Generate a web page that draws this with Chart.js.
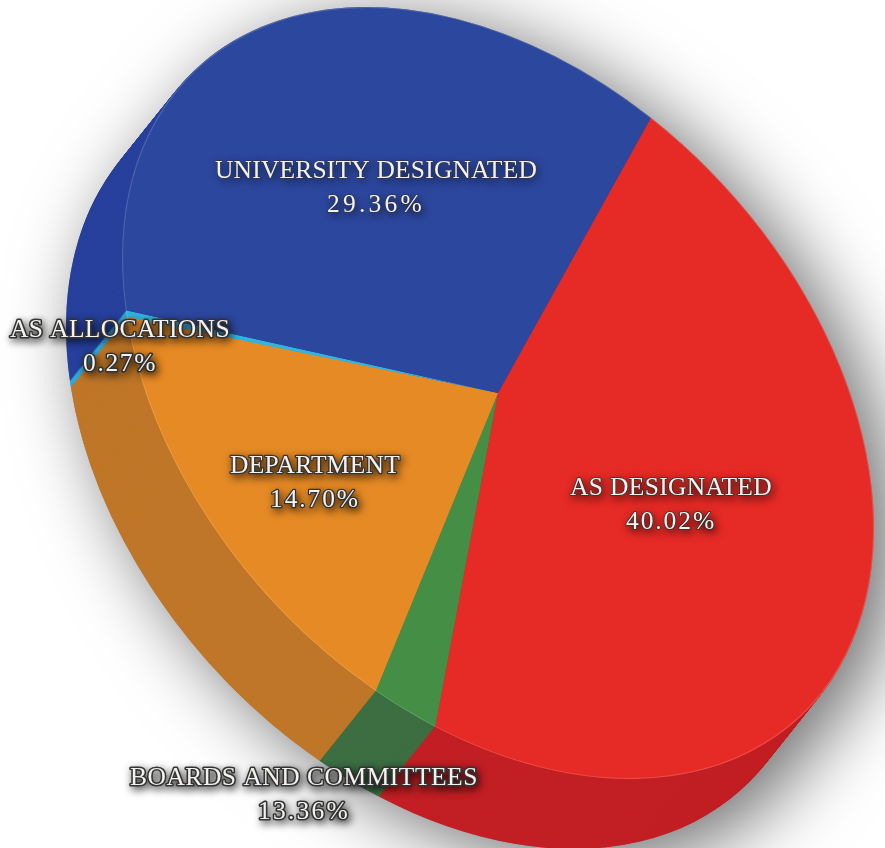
<!DOCTYPE html>
<html><head><meta charset="utf-8">
<style>html,body{margin:0;padding:0;background:#fff}canvas{display:block}</style>
<script src="https://cdn.jsdelivr.net/npm/chart.js@4"></script>
</head><body>
<canvas id="c" width="885" height="848"></canvas>
<script>
// Categories and the percentages printed on the picture
const categories = ["AS DESIGNATED","BOARDS AND COMMITTEES","DEPARTMENT","AS ALLOCATIONS","UNIVERSITY DESIGNATED"];
const printedPercent = ["40.02%","13.36%","14.70%","0.27%","29.36%"];
// Slice sizes as read off the drawn wedges (the picture's wedges do not follow the printed numbers)
const drawnShares = [46.0,2.6,17.2,0.27,33.93];
const topColors  = ["#E62A25","#448F45","#E68A25","#2FB5DE","#2C479E"];
const sideColors = ["#C21F24","#3C6E42","#BF7628","#2FA8D8","#27409C"];

// Layout only
const tilt = {cx:498, cy:393, ax:376, bx:0, ay:135.4, by:361.5};
const depth = {dx:-56, dy:70, steps:70};
const labelLayout = [
  {x:671,y:495,w:202,pw:90,outline:1.6,size:25.5},
  {x:304,y:785,w:348,pw:92,outline:3.2,size:25.5},
  {x:315,y:473,w:170,pw:90,outline:2.6,size:25.5},
  {x:120,y:337,w:220,pw:74,outline:3.2,size:25.5},
  {x:376,y:178,w:322,pw:98,outline:1.0,size:25.5}
];
const lineGap = 34;

function applyTilt(ctx, arc){
  const s = arc.outerRadius;
  ctx.translate(tilt.cx, tilt.cy);
  ctx.transform(tilt.ax/s, tilt.ay/s, tilt.bx/s, tilt.by/s, 0, 0);
  ctx.translate(-arc.x, -arc.y);
}
const piePlugin = {
  id:'tiltedPie',
  beforeDatasetsDraw(chart){
    const ctx = chart.ctx, arcs = chart.getDatasetMeta(0).data, a0 = arcs[0];
    // soft drop shadow of whole solid
    ctx.save();
    ctx.shadowColor = 'rgba(0,0,0,0.58)';
    ctx.shadowBlur = 76;
    ctx.shadowOffsetX = 20;
    ctx.shadowOffsetY = 14;
    ctx.fillStyle = '#888';
    ctx.beginPath();
    for(let i=0;i<=14;i++){
      const t=i/14, ox=depth.dx*t, oy=depth.dy*t;
      for(let k=0;k<=120;k++){
        const th=k/120*Math.PI*2, u=Math.cos(th), v=Math.sin(th);
        const px=tilt.cx+ox+tilt.ax*u+tilt.bx*v, py=tilt.cy+oy+tilt.ay*u+tilt.by*v;
        k?ctx.lineTo(px,py):ctx.moveTo(px,py);
      }
      ctx.closePath();
    }
    ctx.fill();
    ctx.restore();
    // extruded side
    for(let i=depth.steps;i>=1;i--){
      const t=i/depth.steps;
      ctx.save();
      ctx.translate(depth.dx*t, depth.dy*t);
      applyTilt(ctx,a0);
      arcs.forEach((arc,j)=>{
        const view = Object.create(arc,{options:{value:Object.assign({},arc.options,{backgroundColor:sideColors[j]})}});
        arc.draw.call(view,ctx);
      });
      ctx.restore();
    }
    ctx.save();
    applyTilt(ctx,a0);
  },
  afterDatasetsDraw(chart){
    const ctx = chart.ctx, a0 = chart.getDatasetMeta(0).data[0];
    ctx.strokeStyle='rgba(255,255,255,0.16)';
    ctx.lineWidth=1.2;
    ctx.beginPath();
    ctx.arc(a0.x,a0.y,a0.outerRadius-0.6,0,Math.PI*2);
    ctx.stroke();
    ctx.restore();
    ctx.textAlign='left';
    ctx.textBaseline='alphabetic';
    categories.forEach((name,i)=>{
      const l=labelLayout[i];
      drawText(ctx,name,l.x,l.y,l.w,l);
      drawText(ctx,printedPercent[i],l.x,l.y+lineGap,l.pw,l);
    });
  }
};
function drawText(ctx,txt,cx,y,w,l){
  ctx.save();
  ctx.font = l.size+'px "Liberation Serif"';
  ctx.letterSpacing='0px';
  const base=ctx.measureText(txt).width;
  const sp=(w-base)/txt.length;
  ctx.letterSpacing=sp.toFixed(2)+'px';
  const x=cx-w/2;
  ctx.lineJoin='round';
  ctx.shadowColor='rgba(0,0,0,0.8)';
  ctx.shadowBlur=9;
  ctx.shadowOffsetX=2;
  ctx.shadowOffsetY=3;
  ctx.strokeStyle='#333';
  ctx.lineWidth=l.outline;
  ctx.strokeText(txt,x,y);
  ctx.shadowColor='transparent';
  ctx.fillStyle='#f4f2ee';
  ctx.fillText(txt,x,y);
  ctx.restore();
}
new Chart(document.getElementById('c'),{
  type:'pie',
  data:{labels:categories,datasets:[{data:drawnShares,backgroundColor:topColors,borderWidth:0}]},
  options:{
    responsive:false,animation:false,rotation:24,
    layout:{padding:0},
    plugins:{legend:{display:false},tooltip:{enabled:false},title:{display:false}}
  },
  plugins:[piePlugin]
});
</script>
</body></html>
